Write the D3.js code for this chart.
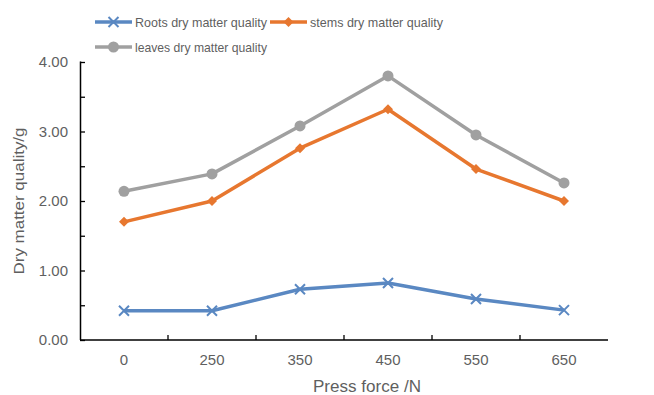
<!DOCTYPE html>
<html><head><meta charset="utf-8">
<script src="https://cdn.jsdelivr.net/npm/d3@7"></script>
<style>body{margin:0;background:#fff}svg{display:block}</style>
</head><body>
<script>
const categories = ["0","250","350","450","550","650"];
const roots = [0.42,0.42,0.73,0.82,0.59,0.43];
const stems = [1.70,2.00,2.76,3.32,2.46,2.00];
const leaves = [2.14,2.39,3.08,3.80,2.95,2.26];
const yTicks = [0,1,2,3,4];
const seriesNames = ["Roots dry matter quality","stems dry matter quality","leaves dry matter quality"];

const W=654,H=395;
const svg=d3.select("body").append("svg").attr("width",W).attr("height",H);
const font="Liberation Sans, Arial, sans-serif";
const x=d3.scaleBand().domain(categories).range([80,608]);
const y=d3.scaleLinear().domain([0,4]).range([340,62]);
const colors=["#5a88c2","#e7772f","#a0a0a0"];
const series=[roots,stems,leaves];

// y axis
const yAxis=d3.axisLeft(y).tickValues(d3.range(0,4.01,0.5)).tickSize(-5).tickFormat(d=>yTicks.includes(d)?d.toFixed(2):"");
const gy=svg.append("g").attr("transform","translate(80,0)").call(yAxis);
gy.select(".domain").attr("stroke","#000").attr("stroke-width",1.5).attr("d","M0.5,61.5V340");
gy.selectAll(".tick line").attr("stroke","#000").attr("stroke-width",1.3);
gy.selectAll(".tick text").attr("x",-12).attr("font-family",font).attr("font-size",15).attr("fill","#5f5f5f");

// x axis
const gx=svg.append("g").attr("transform","translate(0,340)");
gx.append("line").attr("x1",80).attr("x2",608).attr("stroke","#000").attr("stroke-width",1.5);
const bounds=categories.slice(1).map(c=>x(c));
gx.selectAll(".xt").data(bounds).join("line").attr("x1",d=>d).attr("x2",d=>d).attr("y1",0).attr("y2",-5).attr("stroke","#000").attr("stroke-width",1.3);
gx.selectAll(".xl").data(categories).join("text").attr("x",d=>x(d)+x.bandwidth()/2).attr("y",25)
  .attr("text-anchor","middle").attr("font-family",font).attr("font-size",15).attr("fill","#5f5f5f").text(d=>d);

svg.append("text").attr("x",367).attr("y",392).attr("text-anchor","middle").attr("font-family",font).attr("font-size",16).attr("fill","#5f5f5f").attr("textLength",108).attr("lengthAdjust","spacingAndGlyphs").text("Press force /N");
svg.append("text").attr("transform","translate(24,201) rotate(-90)").attr("text-anchor","middle").attr("font-family",font).attr("font-size",15).attr("fill","#5f5f5f").attr("textLength",147).attr("lengthAdjust","spacingAndGlyphs").text("Dry matter quality/g");

const line=d3.line().x((d,i)=>x(categories[i])+x.bandwidth()/2).y(d=>y(d));
function marker(g,type,cx,cy,c){
  if(type===0){
    g.append("path").attr("d",`M${cx-5},${cy-5}L${cx+5},${cy+5}M${cx-5},${cy+5}L${cx+5},${cy-5}`).attr("stroke",c).attr("stroke-width",2);
  } else if(type===1){
    g.append("path").attr("d",`M${cx},${cy-5}L${cx+5},${cy}L${cx},${cy+5}L${cx-5},${cy}Z`).attr("fill",c);
  } else {
    g.append("circle").attr("cx",cx).attr("cy",cy).attr("r",5.5).attr("fill",c);
  }
}
series.forEach((s,k)=>{
  svg.append("path").datum(s).attr("d",line).attr("fill","none").attr("stroke",colors[k]).attr("stroke-width",3.5).attr("stroke-linejoin","round");
  const g=svg.append("g");
  s.forEach((v,i)=>marker(g,k,x(categories[i])+x.bandwidth()/2,y(v),colors[k]));
});

// legend
const leg=[{x:95,y:22},{x:270,y:22},{x:95,y:47}];
leg.forEach((p,k)=>{
  const g=svg.append("g");
  g.append("line").attr("x1",p.x).attr("x2",p.x+37).attr("y1",p.y).attr("y2",p.y).attr("stroke",colors[k]).attr("stroke-width",3.5);
  marker(g,k,p.x+18.5,p.y,colors[k]);
  g.append("text").attr("x",p.x+40).attr("y",p.y+5).attr("font-family",font).attr("font-size",13).attr("fill","#5f5f5f").attr("textLength",k===1?133:132).attr("lengthAdjust","spacingAndGlyphs").text(seriesNames[k]);
});
</script>
</body></html>
